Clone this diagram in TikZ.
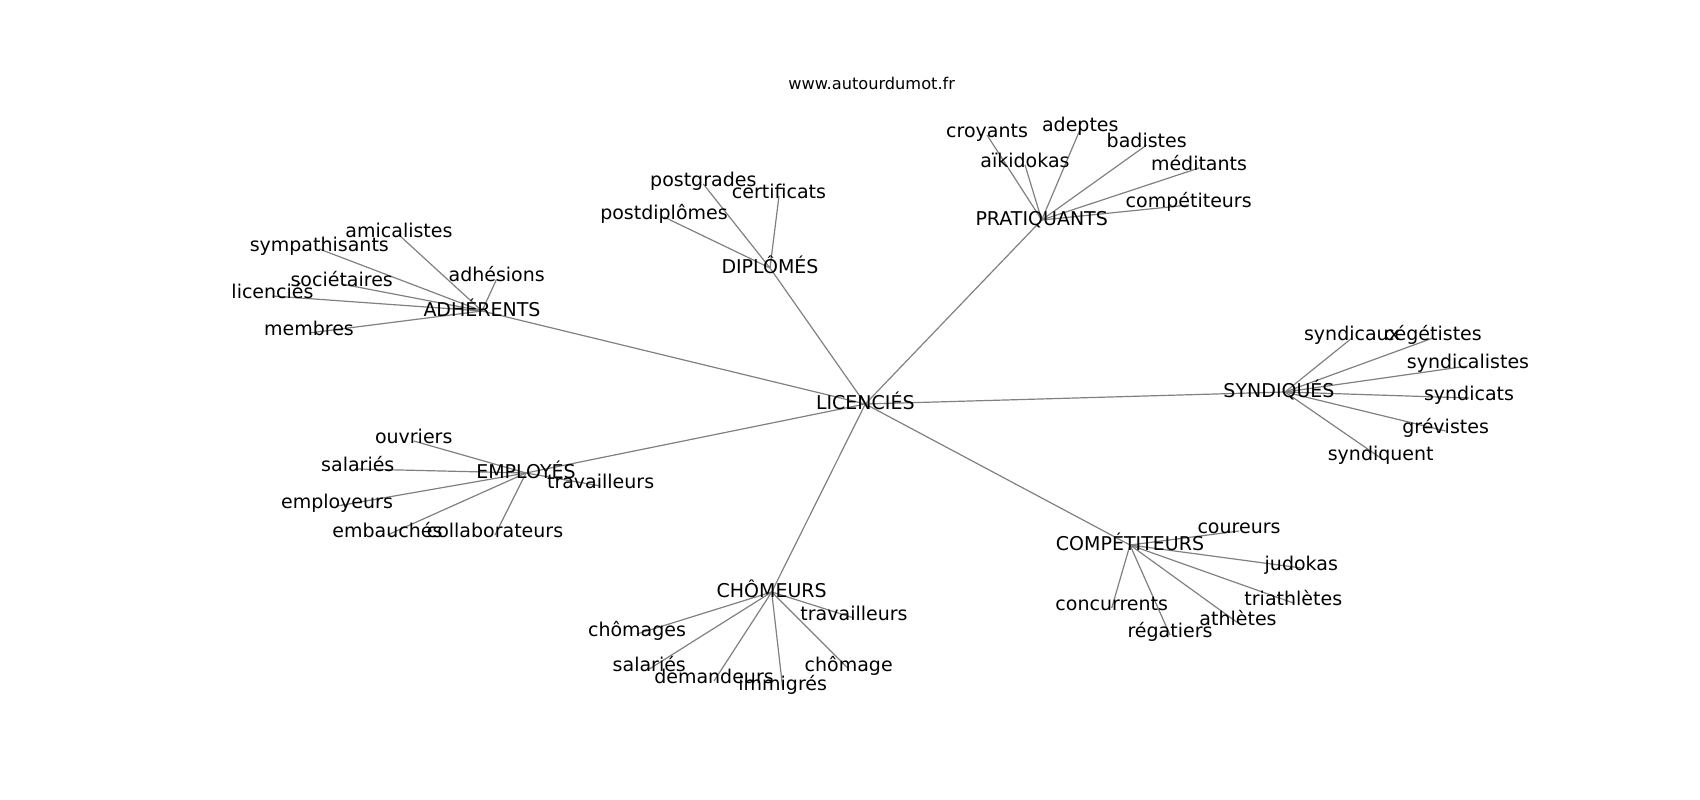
\documentclass[tikz,border=0pt]{standalone}
\usepackage{fontspec}
\setmainfont{DejaVu Sans}
\begin{document}
\begin{tikzpicture}[x=1pt,y=-1pt,
  lbl/.style={inner sep=0pt, anchor=center, text height=0.76em, text depth=0.24em, font=\fontsize{19}{22}\selectfont},
  hub/.style={lbl, yshift=-3pt},
  ttl/.style={inner sep=0pt, anchor=center, text height=0.76em, text depth=0.24em, font=\fontsize{16.2}{19}\selectfont},
  edge/.style={draw=black!50, line width=1.2pt}]
\useasboundingbox (0,0) rectangle (1700,800);
\begin{scope}[yshift=-4pt]
% coordinates of nodes
\coordinate (LIC) at (865.3,400);
\coordinate (ADH) at (482,307);
\coordinate (DIP) at (770,264);
\coordinate (PRA) at (1041.7,216);
\coordinate (SYN) at (1285,388);
\coordinate (EMP) at (526,469);
\coordinate (CHO) at (771.7,588);
\coordinate (COM) at (1130,541);
% ADH leaves
\coordinate (a1) at (399,231);
\coordinate (a2) at (319.3,245);
\coordinate (a3) at (496.7,275);
\coordinate (a4) at (341.7,280);
\coordinate (a5) at (272.5,292);
\coordinate (a6) at (309,329);
% DIP leaves
\coordinate (d1) at (703.3,180);
\coordinate (d2) at (779,192);
\coordinate (d3) at (664,213);
% PRA leaves
\coordinate (p1) at (987,131);
\coordinate (p2) at (1080.3,125);
\coordinate (p3) at (1146.7,141);
\coordinate (p4) at (1025,161);
\coordinate (p5) at (1199,164);
\coordinate (p6) at (1188.7,201);
% SYN leaves
\coordinate (s1) at (1352,334);
\coordinate (s2) at (1433,334);
\coordinate (s3) at (1468,362);
\coordinate (s4) at (1469,394);
\coordinate (s5) at (1445.6,427);
\coordinate (s6) at (1380.7,454);
% EMP leaves
\coordinate (e1) at (413.7,437);
\coordinate (e2) at (357.8,465);
\coordinate (e3) at (337,502);
\coordinate (e4) at (387.5,531);
\coordinate (e5) at (495,531);
\coordinate (e6) at (600.6,482);
% CHO leaves
\coordinate (c1) at (637,630);
\coordinate (c2) at (649.3,665);
\coordinate (c3) at (714,677);
\coordinate (c4) at (782.7,684);
\coordinate (c5) at (854,614);
\coordinate (c6) at (848.7,665);
% COM leaves
\coordinate (m1) at (1239,527);
\coordinate (m2) at (1301.3,564);
\coordinate (m3) at (1293.3,599);
\coordinate (m4) at (1238,619);
\coordinate (m5) at (1111.7,604);
\coordinate (m6) at (1170,631);
% edges
\foreach \h in {ADH,DIP,PRA,SYN,EMP,CHO,COM} \draw[edge] (LIC) -- (\h);
\foreach \l in {a1,a2,a3,a4,a5,a6} \draw[edge] (ADH) -- (\l);
\foreach \l in {d1,d2,d3} \draw[edge] (DIP) -- (\l);
\foreach \l in {p1,p2,p3,p4,p5,p6} \draw[edge] (PRA) -- (\l);
\foreach \l in {s1,s2,s3,s4,s5,s6} \draw[edge] (SYN) -- (\l);
\foreach \l in {e1,e2,e3,e4,e5,e6} \draw[edge] (EMP) -- (\l);
\foreach \l in {c1,c2,c3,c4,c5,c6} \draw[edge] (CHO) -- (\l);
\foreach \l in {m1,m2,m3,m4,m5,m6} \draw[edge] (COM) -- (\l);
% labels
\node[ttl] (title) at (871.7,83) {www.autourdumot.fr};
\node[hub] (tLIC) at (LIC) {LICENCIÉS};
\node[hub] (tADH) at (ADH) {ADHÉRENTS};
\node[hub] (tDIP) at (DIP) {DIPLÔMÉS};
\node[hub] (tPRA) at (PRA) {PRATIQUANTS};
\node[hub, xshift=-6pt] (tSYN) at (SYN) {SYNDIQUÉS};
\node[hub] (tEMP) at (EMP) {EMPLOYÉS};
\node[hub] (tCHO) at (CHO) {CHÔMEURS};
\node[hub] (tCOM) at (COM) {COMPÉTITEURS};
\node[lbl] (ta1) at (a1) {amicalistes};
\node[lbl] (ta2) at (a2) {sympathisants};
\node[lbl] (ta3) at (a3) {adhésions};
\node[lbl] (ta4) at (a4) {sociétaires};
\node[lbl] (ta5) at (a5) {licenciés};
\node[lbl] (ta6) at (a6) {membres};
\node[lbl] (td1) at (d1) {postgrades};
\node[lbl] (td2) at (d2) {certificats};
\node[lbl] (td3) at (d3) {postdiplômes};
\node[lbl] (tp1) at (p1) {croyants};
\node[lbl] (tp2) at (p2) {adeptes};
\node[lbl] (tp3) at (p3) {badistes};
\node[lbl] (tp4) at (p4) {aïkidokas};
\node[lbl] (tp5) at (p5) {méditants};
\node[lbl] (tp6) at (p6) {compétiteurs};
\node[lbl] (ts1) at (s1) {syndicaux};
\node[lbl] (ts2) at (s2) {cégétistes};
\node[lbl] (ts3) at (s3) {syndicalistes};
\node[lbl] (ts4) at (s4) {syndicats};
\node[lbl] (ts5) at (s5) {grévistes};
\node[lbl] (ts6) at (s6) {syndiquent};
\node[lbl] (te1) at (e1) {ouvriers};
\node[lbl] (te2) at (e2) {salariés};
\node[lbl] (te3) at (e3) {employeurs};
\node[lbl] (te4) at (e4) {embauchés};
\node[lbl] (te5) at (e5) {collaborateurs};
\node[lbl] (te6) at (e6) {travailleurs};
\node[lbl] (tc1) at (c1) {chômages};
\node[lbl] (tc2) at (c2) {salariés};
\node[lbl] (tc3) at (c3) {demandeurs};
\node[lbl] (tc4) at (c4) {immigrés};
\node[lbl] (tc5) at (c5) {travailleurs};
\node[lbl] (tc6) at (c6) {chômage};
\node[lbl] (tm1) at (m1) {coureurs};
\node[lbl] (tm2) at (m2) {judokas};
\node[lbl] (tm3) at (m3) {triathlètes};
\node[lbl] (tm4) at (m4) {athlètes};
\node[lbl] (tm5) at (m5) {concurrents};
\node[lbl] (tm6) at (m6) {régatiers};
\end{scope}
\end{tikzpicture}
\end{document}
